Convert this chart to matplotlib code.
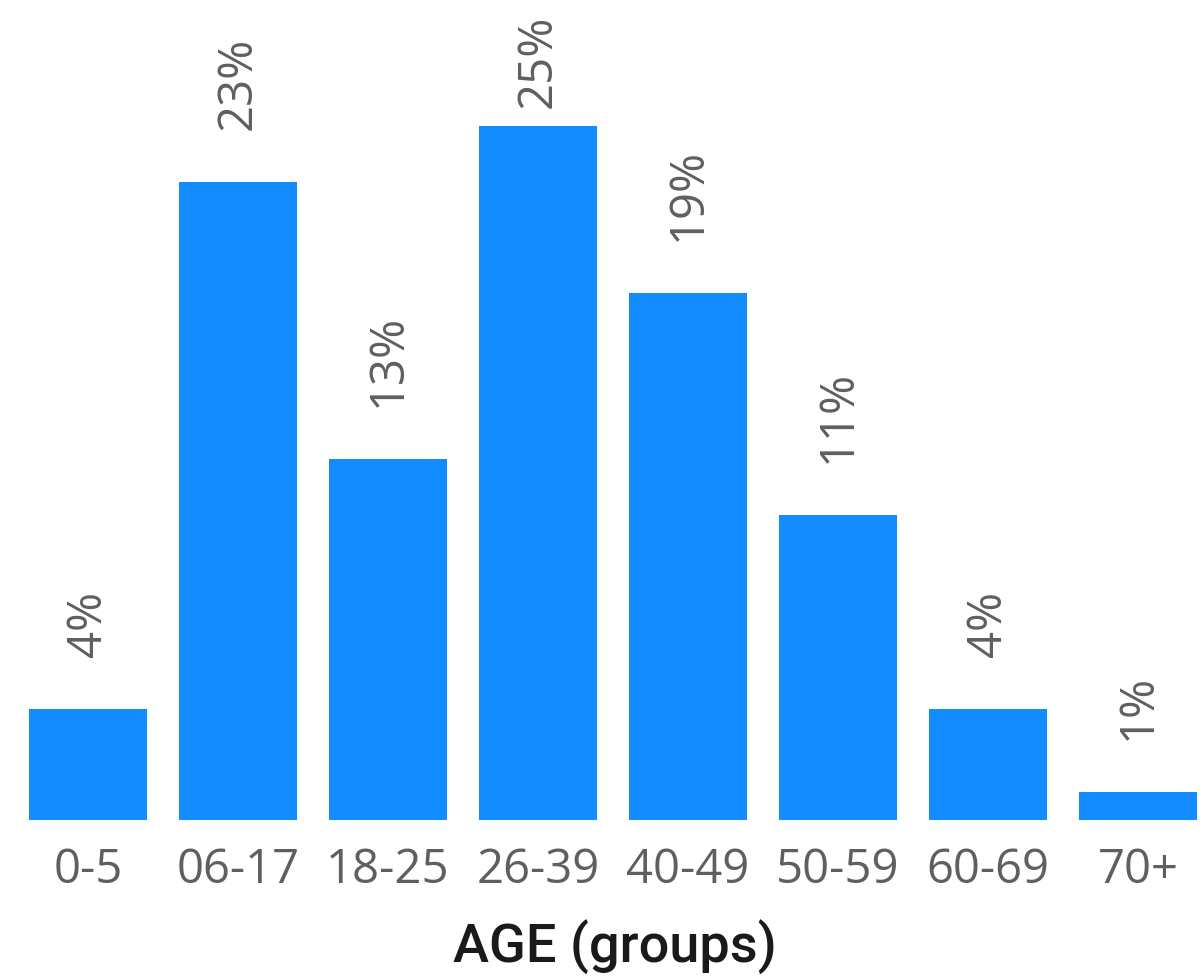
import matplotlib.pyplot as plt
import numpy as np

# age distribution (percent)
age_groups = ["0-5", "06-17", "18-25", "26-39", "40-49", "50-59", "60-69", "70+"]
shares = [4, 23, 13, 25, 19, 11, 4, 1]

bar_color = "#138cff"
text_color = "#5f5f5f"

fig = plt.figure(figsize=(12.03, 9.8), dpi=100)
ax = fig.add_axes([0, 160 / 980, 1, 820 / 980])

px_per_unit = 27.76
ymax = 820 / px_per_unit
gap = 52 / px_per_unit          # space between bar top and its label
label_cap = ymax - 108 / px_per_unit  # keep the tallest labels inside the figure

x = np.arange(len(age_groups))
bars = ax.bar(x, shares, width=0.787, color=bar_color)

for rect, val in zip(bars, shares):
    y = min(val + gap, label_cap)
    ax.text(rect.get_x() + rect.get_width() / 2, y, f"{val}%",
            rotation=90, ha="center", va="bottom",
            fontsize=34, color=text_color, family="Open Sans")

ax.set_xlim(-88 / 150, (1203 - 88) / 150)
ax.set_ylim(0, ymax)
ax.set_xticks(x)
ax.set_xticklabels(age_groups, fontsize=34, color=text_color, family="Open Sans")
ax.tick_params(axis="x", length=0, pad=19)
ax.set_yticks([])
for s in ax.spines.values():
    s.set_visible(False)

# axis title, placed by hand under the tick labels
fig.text(615 / 1203, 1 - 963 / 980, "AGE (groups)", ha="center", va="baseline",
         fontsize=39, fontweight="medium", family="Roboto", color="#1a1a1a")

fig.savefig("out.png", dpi=100)
